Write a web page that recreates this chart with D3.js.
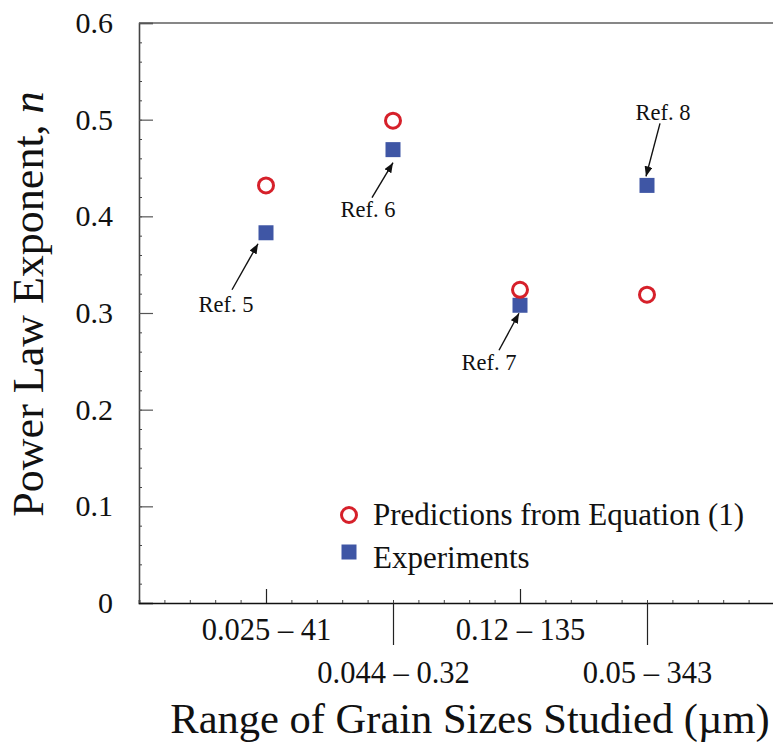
<!DOCTYPE html>
<html>
<head>
<meta charset="utf-8">
<script src="https://cdn.jsdelivr.net/npm/d3@7"></script>
<style>
  body { margin: 0; background: #fff; }
  text { font-family: "Liberation Serif", "Times New Roman", serif; fill: #111; }
</style>
</head>
<body>
<div id="chart"></div>
<script>
// categories (grain size ranges, um)
const ranges = ["0.025 \u2013 41", "0.044 \u2013 0.32", "0.12 \u2013 135", "0.05 \u2013 343"];
// power law exponent n
const predicted = [0.432, 0.499, 0.324, 0.319];
const experiments = [0.383, 0.469, 0.308, 0.432];
const refLabels = ["Ref. 5", "Ref. 6", "Ref. 7", "Ref. 8"];
const yTicks = [0, 0.1, 0.2, 0.3, 0.4, 0.5, 0.6];

// annotation layout, pixel offsets from each experiment marker
const annot = [
  { label: [-40, 79], from: [-34, 57], to: [-8, 11] },
  { label: [-25, 67], from: [-21, 48], to: [0, 13] },
  { label: [-31, 65], from: [-21, 45], to: [-1, 8] },
  { label: [16, -65], from: [13, -62], to: [-1, -9] },
];

const W = 773, H = 742;
const red = "#d6202a", blue = "#3f56a5";

const svg = d3.select("#chart").append("svg")
  .attr("width", W).attr("height", H);

const x = d3.scaleLinear().domain([0, 5]).range([139, 774]);
const y = d3.scaleLinear().domain([0, 0.6]).range([603, 23]);

// frame top and right
svg.append("path")
  .attr("d", `M${x(0)},${y(0.6)}H${x(5)}V${y(0)}`)
  .attr("fill", "none").attr("stroke", "#111").attr("stroke-width", 1.2);

// y axis: minor then major ticks, pointing inward
const minorY = d3.range(0, 0.6001, 0.02);
svg.append("g")
  .attr("transform", `translate(${x(0)},0)`)
  .call(d3.axisLeft(y).tickValues(minorY).tickSize(-3).tickFormat(""))
  .call((g) => g.select(".domain").remove())
  .selectAll("line").attr("stroke", "#444");

const yAxis = svg.append("g")
  .attr("transform", `translate(${x(0)},0)`)
  .call(d3.axisLeft(y).tickValues(yTicks).tickSize(-14).tickPadding(26)
    .tickFormat((d) => (d === 0 ? "0" : d.toFixed(1))));
yAxis.select(".domain").attr("stroke", "#444").attr("stroke-width", 1.6);
yAxis.selectAll("line").attr("stroke", "#555").attr("stroke-width", 1.2);
yAxis.selectAll("text")
  .style("font-family", '"Liberation Serif", serif')
  .style("font-size", "30px").attr("fill", "#111");

// x axis: minor ticks every 0.2
const minorX = d3.range(0, 5.001, 0.2);
svg.append("g")
  .attr("transform", `translate(0,${y(0)})`)
  .call(d3.axisBottom(x).tickValues(minorX).tickSize(-3).tickFormat(""))
  .call((g) => g.select(".domain").attr("stroke", "#111").attr("stroke-width", 1.6))
  .selectAll("line").attr("stroke", "#444");

// major category ticks: odd ones up with labels on first row, even ones down with second row
const catIdx = ranges.map((_, i) => i + 1);
const rowOne = svg.append("g")
  .attr("transform", `translate(0,${y(0)})`)
  .call(d3.axisBottom(x).tickValues(catIdx.filter((d) => d % 2 === 1))
    .tickSize(-14).tickPadding(15).tickFormat((d) => ranges[d - 1]));
const rowTwo = svg.append("g")
  .attr("transform", `translate(0,${y(0)})`)
  .call(d3.axisBottom(x).tickValues(catIdx.filter((d) => d % 2 === 0))
    .tickSize(42).tickPadding(16).tickFormat((d) => ranges[d - 1]));
[rowOne, rowTwo].forEach((g) => {
  g.select(".domain").remove();
  g.selectAll("line").attr("stroke", "#222").attr("stroke-width", 1.2);
  g.selectAll("text")
    .style("font-family", '"Liberation Serif", serif')
    .style("font-size", "30.5px").attr("fill", "#111");
});

// axis titles
svg.append("text")
  .attr("x", 470).attr("y", 733)
  .attr("text-anchor", "middle")
  .style("font-size", "42.5px")
  .text("Range of Grain Sizes Studied (\u00b5m)");

const yTitle = svg.append("text")
  .attr("transform", "translate(43,304) rotate(-90)")
  .attr("text-anchor", "middle")
  .style("font-size", "44px");
yTitle.append("tspan").text("Power Law Exponent, ");
yTitle.append("tspan").style("font-style", "italic").text("n");

// experiments (filled squares)
const sq = 15;
svg.selectAll(".exp")
  .data(experiments)
  .enter()
  .append("rect")
  .attr("class", "exp")
  .attr("x", (d, i) => x(i + 1) - sq / 2)
  .attr("y", (d) => y(d) - sq / 2)
  .attr("width", sq).attr("height", sq)
  .attr("fill", blue);

// predictions (open circles)
svg.selectAll(".pred")
  .data(predicted)
  .enter()
  .append("circle")
  .attr("class", "pred")
  .attr("cx", (d, i) => x(i + 1))
  .attr("cy", (d) => y(d))
  .attr("r", 7.5)
  .attr("fill", "none")
  .attr("stroke", red)
  .attr("stroke-width", 3);

// reference annotations with arrows
svg.append("defs").append("marker")
  .attr("id", "arrow")
  .attr("viewBox", "0 0 10 8")
  .attr("refX", 10).attr("refY", 4)
  .attr("markerWidth", 10).attr("markerHeight", 8)
  .attr("markerUnits", "userSpaceOnUse")
  .attr("orient", "auto")
  .append("path")
  .attr("d", "M0,0L10,4L0,8Z")
  .attr("fill", "#111");

experiments.forEach((v, i) => {
  const cx = x(i + 1), cy = y(v);
  const a = annot[i];
  svg.append("line")
    .attr("x1", cx + a.from[0]).attr("y1", cy + a.from[1])
    .attr("x2", cx + a.to[0]).attr("y2", cy + a.to[1])
    .attr("stroke", "#111").attr("stroke-width", 1.4)
    .attr("marker-end", "url(#arrow)");
  svg.append("text")
    .attr("x", cx + a.label[0]).attr("y", cy + a.label[1])
    .attr("text-anchor", "middle")
    .style("font-size", "22.5px")
    .text(refLabels[i]);
});

// legend
const legend = svg.append("g").attr("transform", "translate(349,0)");
legend.append("circle")
  .attr("cx", 0).attr("cy", 515).attr("r", 7.5)
  .attr("fill", "none").attr("stroke", red).attr("stroke-width", 3);
legend.append("rect")
  .attr("x", -sq / 2).attr("y", 552 - sq / 2)
  .attr("width", sq).attr("height", sq)
  .attr("fill", blue);
legend.append("text")
  .attr("x", 24).attr("y", 525)
  .style("font-size", "31px")
  .text("Predictions from Equation (1)");
legend.append("text")
  .attr("x", 24).attr("y", 568)
  .style("font-size", "31px")
  .text("Experiments");
</script>
</body>
</html>
